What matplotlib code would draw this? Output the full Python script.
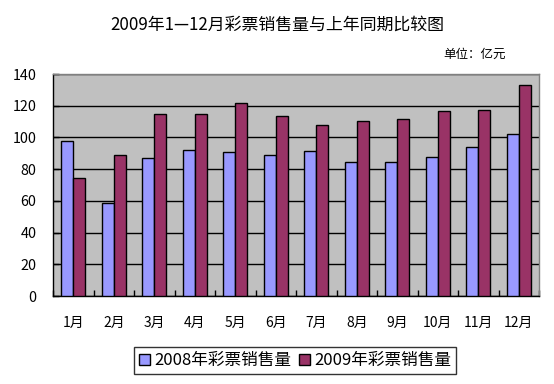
import matplotlib
matplotlib.use("Agg")
import matplotlib.pyplot as plt
import numpy as np

plt.rcParams['font.family'] = ['Noto Sans CJK SC', 'DejaVu Sans']

months = ["1月", "2月", "3月", "4月", "5月", "6月", "7月", "8月", "9月", "10月", "11月", "12月"]
sales_2008 = [97.7, 58.5, 86.9, 92.0, 90.7, 88.8, 91.4, 84.4, 84.4, 87.6, 93.9, 102.1]
sales_2009 = [74.3, 88.8, 114.7, 114.7, 121.7, 113.5, 107.8, 110.3, 111.6, 116.6, 117.3, 133.1]
series_names = ["2008年彩票销售量", "2009年彩票销售量"]
yticks = [0, 20, 40, 60, 80, 100, 120, 140]

fig = plt.figure(figsize=(5.54, 3.84), dpi=100)
W, H = 554, 384
ax = fig.add_axes([53 / W, 1 - 296 / H, (539 - 53) / W, (296 - 74) / H])
ax.set_facecolor("#C0C0C0")

x = np.arange(len(months))
w = 0.3
ax.bar(x - w / 2, sales_2008, w, color="#9999FF", edgecolor="black", linewidth=1.0,
       label=series_names[0], zorder=3)
ax.bar(x + w / 2, sales_2009, w, color="#993366", edgecolor="black", linewidth=1.0,
       label=series_names[1], zorder=3)

ax.set_xlim(-0.5, len(months) - 0.5)
ax.set_ylim(0, 140)
ax.set_yticks(yticks)
ax.set_yticklabels([str(v) for v in yticks], fontsize=10.3)
ax.yaxis.grid(True, color="black", linewidth=1.0, zorder=1)
ax.set_axisbelow(True)

ax.set_xticks(x)
ax.set_xticklabels(months, fontsize=10)
ax.tick_params(axis="x", which="major", length=0, pad=14)
ax.set_xticks(np.arange(-0.5, len(months), 1.0), minor=True)
ax.tick_params(axis="x", which="minor", direction="in", length=4, width=1, color="black")
ax.tick_params(axis="y", direction="in", length=4, width=1, pad=12)

for s in ["top", "right"]:
    ax.spines[s].set_color("#808080")
    ax.spines[s].set_linewidth(1.0)
for s in ["left", "bottom"]:
    ax.spines[s].set_color("black")
    ax.spines[s].set_linewidth(1.0)

fig.text(277 / W, 1 - 25 / H, "2009年1—12月彩票销售量与上年同期比较图", ha="center", va="center", fontsize=12.2)
fig.text(506 / W, 1 - 54 / H, "单位：亿元", ha="right", va="center", fontsize=9)

leg = fig.legend(loc="center", bbox_to_anchor=(295 / W, 1 - 360.5 / H), ncol=2, fontsize=12,
                 frameon=True, fancybox=False, edgecolor="black", handlelength=0.65,
                 handleheight=0.65, handletextpad=0.25, columnspacing=0.5, borderpad=0.3,
                 borderaxespad=0)
leg.get_frame().set_linewidth(1.0)

fig.savefig("out.png", dpi=100)
